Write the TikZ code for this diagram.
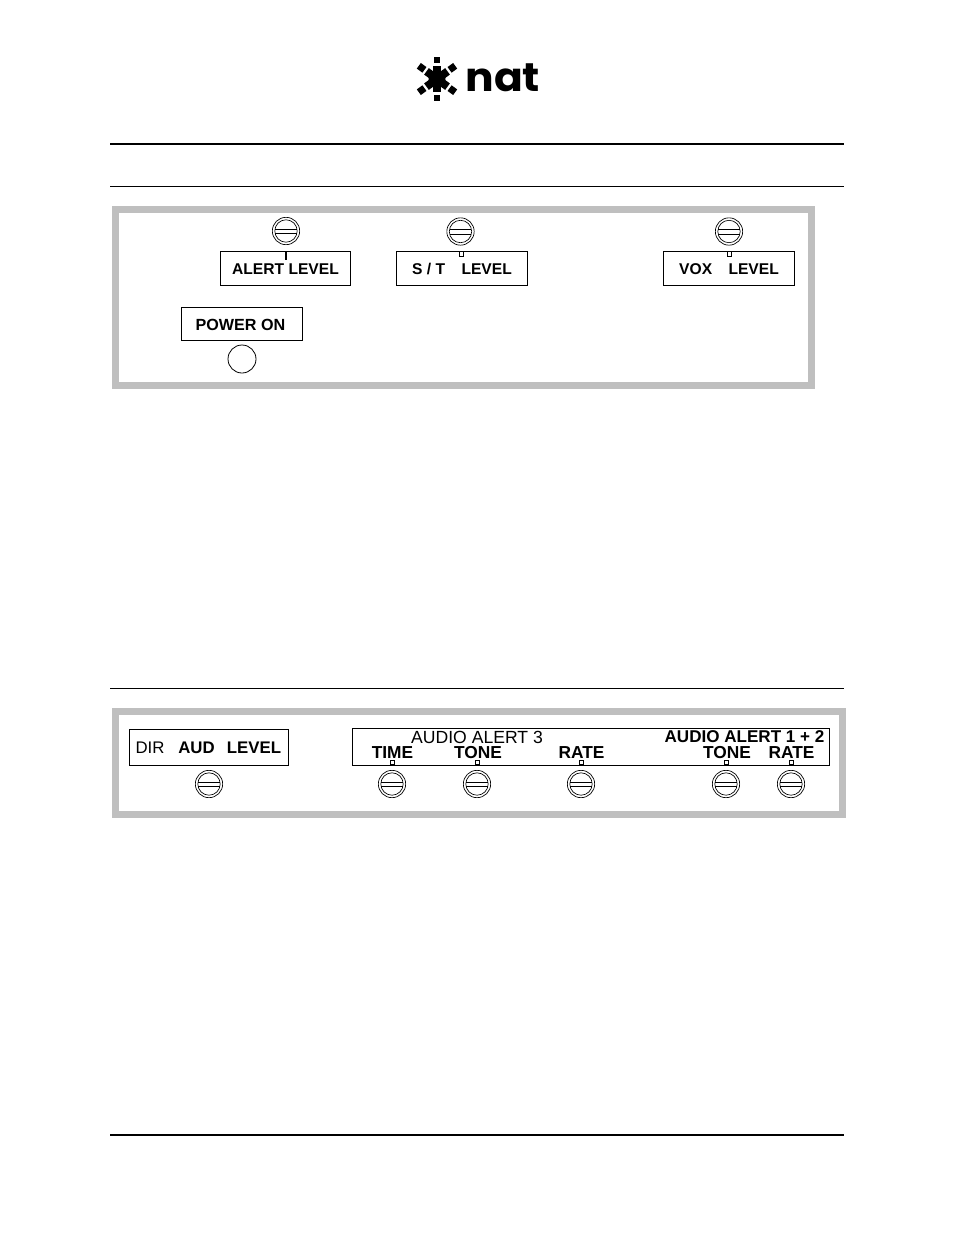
\documentclass[tikz,border=0pt]{standalone}
\usepackage{xcolor}
\usepackage{fontspec}
\setmainfont{Liberation Sans}
\newfontfamily\logofont{Poppins}
\usetikzlibrary{positioning}
\definecolor{panelgrey}{HTML}{BFBFBF}

\begin{document}
\begin{tikzpicture}[
	x=0.75pt,y=-0.75pt,
	line width=0.75pt,
	font=\fontsize{12.6}{14}\selectfont\bfseries
]
\tikzset{
    panel/.style = {draw=panelgrey,line width=5.25pt},
    rulethin/.style = {line width=0.75pt},
    rulethick/.style = {line width=1.5pt},
    labelbox/.style = {rectangle,draw=black,inner sep=0pt},
    caption/.style = {inner sep=0pt,anchor=center},
    topcaption/.style = {caption,font=\fontsize{11.7}{14}\selectfont\bfseries},
    rowcaption/.style = {caption,font=\fontsize{13}{14}\selectfont\bfseries},
    plaincaption/.style = {caption,font=\fontsize{13.2}{14}\selectfont},
    knob/.style = {circle,draw=black,line width=0.5pt,inner sep=0pt,minimum size=20.5pt},
    lamp/.style = {circle,draw=black,line width=0.6pt,inner sep=0pt,minimum size=21pt},
    tab/.style = {rectangle,draw=black,line width=0.4pt,inner sep=0pt,minimum width=2.8pt,minimum height=3.6pt,anchor=north},
    logosquare/.style = {rectangle,fill=black,inner sep=0pt,minimum size=5.2pt}
}
\useasboundingbox (0,0) rectangle (954,1235);
% rules
\draw[rulethick] (110,144) -- (844,144);
\draw[rulethin] (110,186) -- (844,186);
\draw[rulethin] (110,688) -- (844,688);
\draw[rulethick] (110,1135) -- (844,1135);
% logo
\begin{scope}[shift={(437,79)}]
\foreach \a in {36,90,144,216,270,324}{
    \draw[line width=6pt] (0,0) -- (\a:13);
    \node[logosquare,rotate=-\a] at (\a:19) {};
}
\fill (0,0) circle (8.5);
\end{scope}
\node[caption,anchor=west] (logotext) at (465,77.5) {\logofont\fontsize{30}{30}\selectfont\bfseries\scalebox{1.06}[1]{nat}};
% panels
\draw[panel] (115.5,209.5) rectangle (811.5,385.5);
\draw[panel] (115.5,711.5) rectangle (842,814.5);
% upper panel
\node[labelbox,minimum width=97.5pt,minimum height=25.5pt] (alertbox) at (285.5,268) {};
\node[labelbox,minimum width=98.25pt,minimum height=25.5pt] (stbox) at (462,268.5) {};
\node[labelbox,minimum width=98.25pt,minimum height=25.5pt] (voxbox) at (729,268.5) {};
\node[labelbox,minimum width=90.75pt,minimum height=24.75pt] (powerbox) at (242,323.5) {};
\node[topcaption] (alerttext) at (285.5,269) {ALERT LEVEL};
\node[topcaption] (sttext) at (462,269) {S / T\hspace{1.05em}LEVEL};
\node[topcaption] (voxtext) at (729,269) {VOX\hspace{1.05em}LEVEL};
\node[caption,font=\fontsize{12.1}{14}\selectfont\bfseries] (powertext) at (240.5,325) {POWER ON};
\node[lamp] (powerlamp) at (242,359) {};
\draw[line width=0.9pt] (286,251) -- (286,260);
\node[tab] (sttab) at (461.5,251) {};
\node[tab] (voxtab) at (729,251) {};
% lower panel
\node[labelbox,minimum width=119.25pt,minimum height=27pt] (dirbox) at (209,747) {};
\node[labelbox,minimum width=358pt,minimum height=27.75pt] (audiobox) at (591,746.5) {};
\node[caption,font=\fontsize{12.6}{14}\selectfont] (dirtext) at (150,748) {DIR};
\node[caption] (audtext) at (196.5,748) {AUD};
\node[caption] (leveltext) at (254,748) {LEVEL};
\node[plaincaption] (alertthree) at (477,737) {AUDIO ALERT 3};
\node[caption,font=\fontsize{12.8}{14}\selectfont\bfseries] (alertonetwo) at (744.5,737) {AUDIO ALERT 1 + 2};
\node[rowcaption] (timetext) at (392.5,753) {TIME};
\node[rowcaption] (tonetext) at (478,753) {TONE};
\node[rowcaption] (ratetext) at (581.5,753) {RATE};
\node[rowcaption] (tonetwotext) at (727,753) {TONE};
\node[rowcaption] (ratetwotext) at (791.5,753) {RATE};
\foreach \name/\x in {timetab/392,tonetab/477,ratetab/581,tonetwotab/726,ratetwotab/791}{
    \node[tab] (\name) at (\x,759.5) {};
}
% knobs
\foreach \name/\x/\y in {alertknob/286/231,stknob/460.5/231.5,voxknob/729/231.5,dirknob/209/784,timeknob/392/784,toneknob/477/784,rateknob/581/784,tonetwoknob/726/784,ratetwoknob/791/784}{
    \node[knob] (\name) at (\x,\y) {};
    \draw[line width=0.5pt] (\name.center) circle (11.2);
    \draw[line width=0.5pt] ([xshift=-8.2pt,yshift=1.5pt]\name.center) -- ([xshift=8.2pt,yshift=1.5pt]\name.center);
    \draw[line width=0.5pt] ([xshift=-8.2pt,yshift=-1.9pt]\name.center) -- ([xshift=8.2pt,yshift=-1.9pt]\name.center);
}
\end{tikzpicture}
\end{document}
